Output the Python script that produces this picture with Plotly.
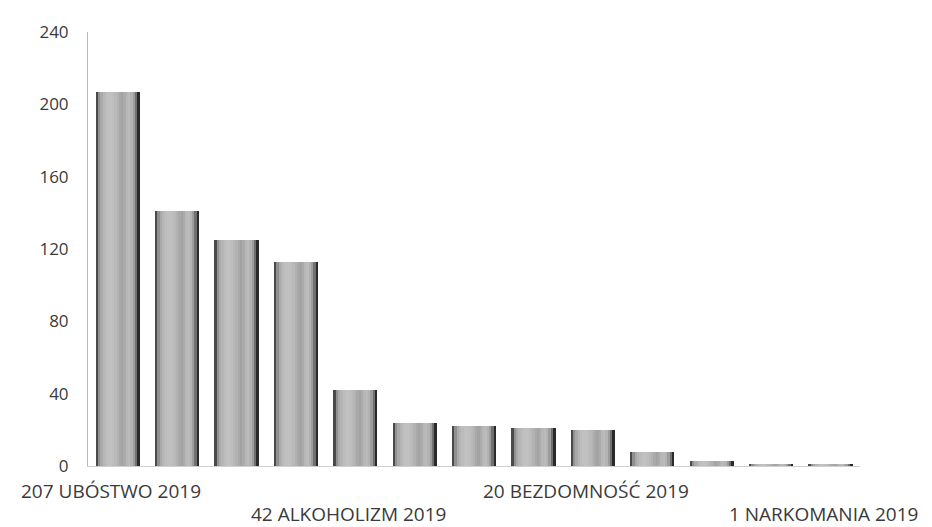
import plotly.graph_objects as go

# ---- data ----
positions = list(range(13))
values = [207, 141, 125, 113, 42, 24, 22, 21, 20, 8, 3, 1, 1]
labels = ["207 UBÓSTWO 2019", "", "", "", "42 ALKOHOLIZM 2019", "", "", "",
          "20 BEZDOMNOŚĆ 2019", "", "", "", "1 NARKOMANIA 2019"]
y_ticks = [0, 40, 80, 120, 160, 200, 240]

# ---- styling: cylinder-like shading built from narrow overlaid strips ----
BAR_W = 0.74
strip_colors = ["#4a4a4a", "#909090", "#a9a9a9", "#b5b5b5", "#bcbcbc", "#c0c0c0",
                "#c1c1c1", "#bebebe", "#b9b9b9", "#b2b2b2", "#a9a9a9", "#a3a3a3",
                "#ababab", "#b7b7b7", "#bbbbbb", "#b3b3b3", "#9d9d9d", "#707070",
                "#2a2a2a"]
n = len(strip_colors)
sw = BAR_W / n

fig = go.Figure()
for k, c in enumerate(strip_colors):
    fig.add_trace(go.Bar(
        x=positions, y=values,
        width=sw * 1.1, offset=-BAR_W / 2 + k * sw,
        marker=dict(color=c, line=dict(width=0)),
        hoverinfo="skip", showlegend=False,
    ))

FONT = "Open Sans, Arial, sans-serif"
for p, lab in zip(positions, labels):
    if not lab:
        continue
    row = (p // 4) % 2
    fig.add_annotation(x=p, y=0, xref="x", yref="y", text=lab, showarrow=False,
                       xanchor="center", yanchor="middle",
                       xshift=-7, yshift=-25 - 23 * row,
                       font=dict(family=FONT, size=19, color="#3a3a3a"))

# the page body has an 8px default margin, so the figure is 16px smaller
fig.update_layout(
    barmode="overlay",
    width=924, height=519,
    margin=dict(l=80, r=72, t=18, b=61),
    paper_bgcolor="white", plot_bgcolor="white",
    font=dict(family=FONT, color="#3a3a3a"),
    bargap=0,
)
fig.update_xaxes(range=[-0.5, 12.5], showgrid=False, zeroline=False,
                 showticklabels=False, ticks="",
                 showline=True, linecolor="#d0d0d0", linewidth=1)
fig.update_yaxes(range=[0, 240], tickvals=y_ticks, showgrid=False, zeroline=False,
                 ticks="", ticklabelstandoff=15,
                 tickfont=dict(family=FONT, size=17, color="#3a3a3a"),
                 showline=True, linecolor="#b8b8b8", linewidth=1)

fig.write_html("out.html")
